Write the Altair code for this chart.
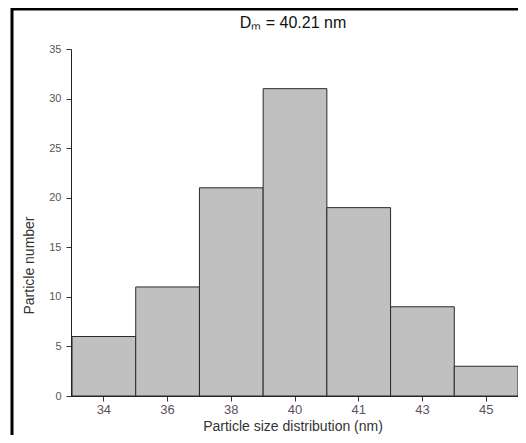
import altair as alt
import pandas as pd

sizes = ["34", "36", "38", "40", "41", "43", "45"]
counts = [6, 11, 21, 31, 19, 9, 3]
y_ticks = [0, 5, 10, 15, 20, 25, 30, 35]
title_text = "Dₘ = 40.21 nm"

df = pd.DataFrame({"size": sizes, "count": counts})

FONT = "Liberation Sans"
LABEL_COLOR = "#5e5060"

bars = alt.Chart(df).mark_bar(
    fill="#c0c0c0", stroke="#2a2a2a", strokeWidth=1
).encode(
    x=alt.X(
        "size:O",
        sort=sizes,
        scale=alt.Scale(paddingInner=0, paddingOuter=0.0394, align=1),
        axis=alt.Axis(
            title="Particle size distribution (nm)",
            labelAngle=0,
            labelFont=FONT,
            labelFontSize=13,
            labelColor=LABEL_COLOR,
            labelPadding=2,
            tickSize=5,
            tickColor="#333333",
            domainColor="#222222",
            titleFont=FONT,
            titleFontSize=14,
            titleFontWeight="normal",
            titleColor="#333333",
            titleBaseline="alphabetic",
            titleY=34,
            grid=False,
        ),
    ),
    y=alt.Y(
        "count:Q",
        scale=alt.Scale(domain=[0, 35], nice=False),
        axis=alt.Axis(
            title="Particle number",
            values=y_ticks,
            offset=-4,
            labelFont=FONT,
            labelFontSize=11,
            labelColor=LABEL_COLOR,
            labelPadding=5,
            tickSize=5,
            tickColor="#333333",
            domainColor="#222222",
            titleFont=FONT,
            titleFontSize=14,
            titleFontWeight="normal",
            titleColor="#333333",
            titleBaseline="alphabetic",
            titleX=-38,
            titleY=216,
            titleAngle=270,
            grid=False,
        ),
    ),
)

one = alt.Data(values=[{"k": 1}])

title = alt.Chart(one).mark_text(
    text=title_text, font=FONT, fontSize=16, color="#111111",
    align="center", baseline="alphabetic"
).encode(x=alt.value(226), y=alt.value(-21))

top_line = alt.Chart(one).mark_rule(color="#000000", strokeWidth=3).encode(
    x=alt.value(-56), x2=alt.value(451), y=alt.value(-40)
)
left_line = alt.Chart(one).mark_rule(color="#000000", strokeWidth=3).encode(
    x=alt.value(-55), y=alt.value(-41), y2=alt.value(386)
)

chart = alt.layer(bars, title, top_line, left_line).properties(
    width=451,
    height=347,
    autosize=alt.AutoSizeParams(type="none"),
    padding={"left": 59, "top": 41, "right": 0, "bottom": 39},
).configure_view(stroke=None)

chart.save("out.html", embed_options={"renderer": "svg", "actions": False})
